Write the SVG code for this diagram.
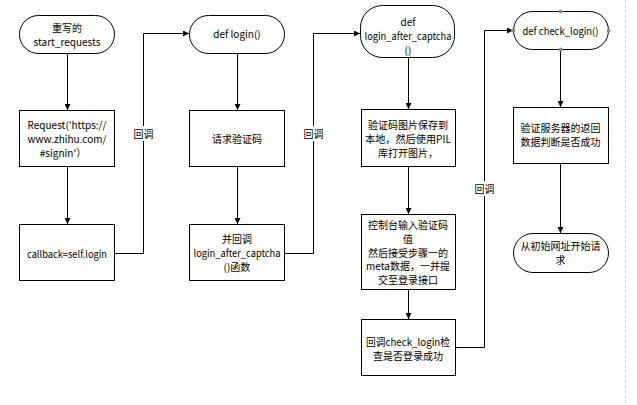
<svg xmlns="http://www.w3.org/2000/svg" width="637" height="405" viewBox="0 0 637 405">
<defs>
<marker id="arr" viewBox="0 0 10 10" refX="10" refY="5" markerWidth="6" markerHeight="6" markerUnits="userSpaceOnUse" orient="auto">
<path d="M0,0 L10,5 L0,10 z" fill="#000"/>
</marker>
<style>
.n{fill:#fff;stroke:#000;stroke-width:1}
.t{font-family:"Noto Sans CJK SC","Noto Sans",sans-serif;font-size:10px;fill:#000;text-anchor:middle;dominant-baseline:central}
.c{fill:none;stroke:#000;stroke-width:1;marker-end:url(#arr)}
.h{fill:#8c8c8c}
</style>
</defs>
<rect width="637" height="405" fill="#fff"/>
<line x1="625.5" y1="0" x2="625.5" y2="405" stroke="#d0d0d0" stroke-dasharray="3,2"/>
<g id="connectors">
<path class="c" d="M67.5,53 V110"/>
<path class="c" d="M67.5,167 V224"/>
<path class="c" d="M115,253.5 H143.5 V33.5 H189"/>
<path class="c" d="M237.5,53 V110"/>
<path class="c" d="M237.5,167 V224"/>
<path class="c" d="M285,253.5 H313.5 V33.5 H360"/>
<path class="c" d="M408.5,57 V109"/>
<path class="c" d="M408.5,167 V214"/>
<path class="c" d="M408.5,290 V319"/>
<path class="c" d="M455,347.5 H484.5 V30.5 H513"/>
<path class="c" d="M560.5,49 V107"/>
<path class="c" d="M560.5,163 V233"/>
<rect x="132" y="126" width="23" height="15" fill="#fff"/>
<text class="t" x="143.5" y="133">回调</text>
<rect x="302" y="126" width="23" height="15" fill="#fff"/>
<text class="t" x="313.5" y="133">回调</text>
<rect x="473" y="181" width="23" height="15" fill="#fff"/>
<text class="t" x="484.5" y="188">回调</text>
</g>
<g id="start">
<rect class="n" x="19.5" y="15.5" width="95" height="38" rx="19" ry="19"/>
<text class="t" x="67" y="27">重写的</text>
<text class="t" x="67" y="41">start_requests</text>
</g>
<g id="request">
<rect class="n" x="19.5" y="110.5" width="95" height="56"/>
<text class="t" x="67" y="124.5">Request('https://</text>
<text class="t" x="67" y="138.5">www.zhihu.com/</text>
<text class="t" x="63" y="152.5">#signin'）</text>
</g>
<g id="callback">
<rect class="n" x="19.5" y="224.5" width="95" height="56"/>
<text class="t" x="67" y="253" textLength="80" lengthAdjust="spacingAndGlyphs">callback=self.login</text>
</g>
<g id="login">
<rect class="n" x="189.5" y="15.5" width="95" height="38" rx="19" ry="19"/>
<text class="t" x="237" y="33.5">def login()</text>
</g>
<g id="captcha-request">
<rect class="n" x="189.5" y="110.5" width="95" height="56"/>
<text class="t" x="237" y="138.5">请求验证码</text>
</g>
<g id="callback2">
<rect class="n" x="189.5" y="224.5" width="95" height="56"/>
<text class="t" x="237" y="238">并回调</text>
<text class="t" x="237" y="252" textLength="87" lengthAdjust="spacingAndGlyphs">login_after_captcha</text>
<text class="t" x="237" y="266">()函数</text>
</g>
<g id="login-after-captcha">
<rect class="n" x="360.5" y="5.5" width="94" height="52" rx="22" ry="22"/>
<text class="t" x="408" y="21">def</text>
<text class="t" x="408" y="35" textLength="87" lengthAdjust="spacingAndGlyphs">login_after_captcha</text>
<text class="t" x="408" y="49">()</text>
</g>
<g id="save-image">
<rect class="n" x="361.5" y="109.5" width="94" height="57"/>
<text class="t" x="408" y="124.5">验证码图片保存到</text>
<text class="t" x="408" y="138.5" textLength="86" lengthAdjust="spacingAndGlyphs">本地，然后使用PIL</text>
<text class="t" x="408" y="152.5">库打开图片，</text>
</g>
<g id="input-captcha">
<rect class="n" x="361.5" y="214.5" width="94" height="75"/>
<text class="t" x="408" y="224.5">控制台输入验证码</text>
<text class="t" x="408" y="238">值</text>
<text class="t" x="408" y="252">然后接受步骤一的</text>
<text class="t" x="408" y="265.5">meta数据，一并提</text>
<text class="t" x="408" y="279">交至登录接口</text>
</g>
<g id="callback3">
<rect class="n" x="361.5" y="319.5" width="94" height="56"/>
<text class="t" x="408" y="341" textLength="84" lengthAdjust="spacingAndGlyphs">回调check_login检</text>
<text class="t" x="408" y="355">查是否登录成功</text>
</g>
<g id="check-login">
<rect class="n" x="513.5" y="11.5" width="95" height="38" rx="19" ry="19"/>
<text class="t" x="560.5" y="30" textLength="76" lengthAdjust="spacingAndGlyphs">def check_login()</text>
<circle class="h" cx="560.5" cy="11.5" r="2"/>
<circle class="h" cx="608.5" cy="30.5" r="2"/>
<circle class="h" cx="560.5" cy="49.5" r="2"/>
<circle class="h" cx="513.5" cy="30.5" r="2"/>
</g>
<g id="verify">
<rect class="n" x="513.5" y="107.5" width="95" height="56"/>
<text class="t" x="560.5" y="127">验证服务器的返回</text>
<text class="t" x="560.5" y="141">数据判断是否成功</text>
</g>
<g id="restart">
<rect class="n" x="513.5" y="233.5" width="95" height="39" rx="19.5" ry="19.5"/>
<text class="t" x="560.5" y="245">从初始网址开始请</text>
<text class="t" x="560.5" y="259">求</text>
</g>
</svg>
